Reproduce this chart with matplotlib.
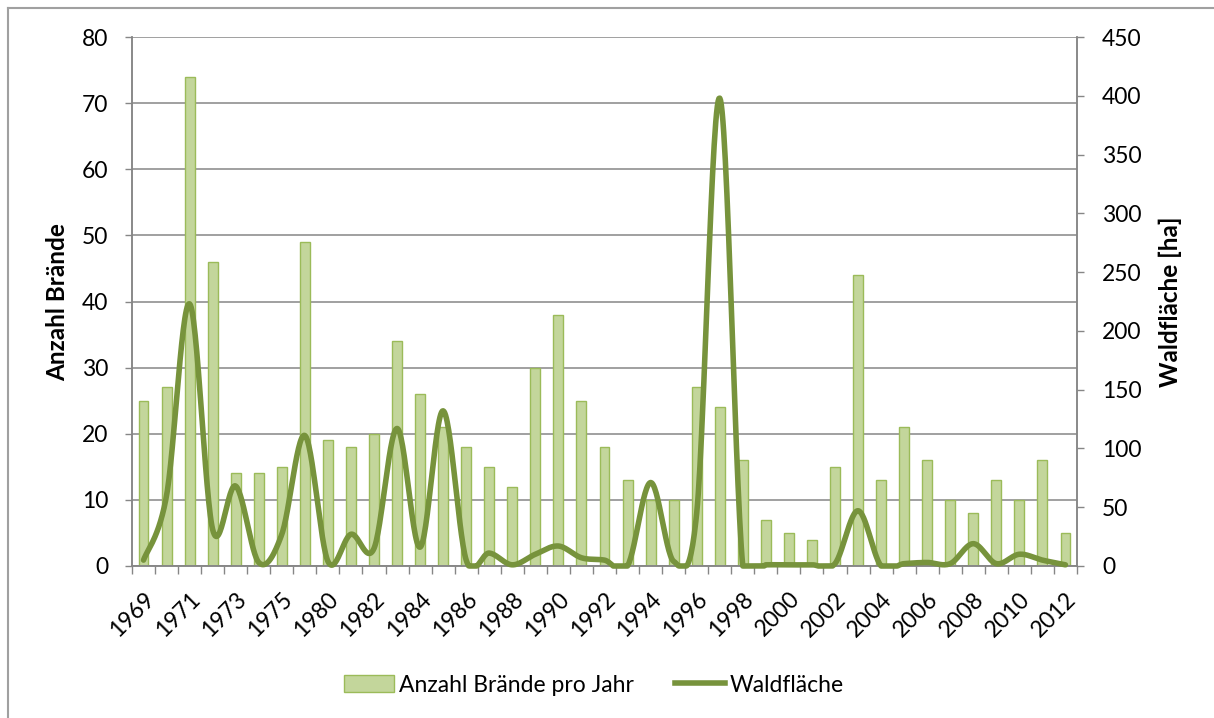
import numpy as np
import matplotlib
matplotlib.use("Agg")
import matplotlib.pyplot as plt
from matplotlib.patches import Patch
from matplotlib.lines import Line2D

plt.rcParams["font.family"] = ["Lato", "DejaVu Sans"]

years = ["1969", "1970", "1971", "1972", "1973", "1974", "1975", "1979",
         "1980", "1981", "1982", "1983", "1984", "1985", "1986", "1987",
         "1988", "1989", "1990", "1991", "1992", "1993", "1994", "1995",
         "1996", "1997", "1998", "1999", "2000", "2001", "2002", "2003",
         "2004", "2005", "2006", "2007", "2008", "2009", "2010", "2011",
         "2012"]
fires = [25, 27, 74, 46, 14, 14, 15, 49, 19, 18, 20, 34, 26, 21, 18, 15,
         12, 30, 38, 25, 18, 13, 10, 10, 27, 24, 16, 7, 5, 4, 15, 44,
         13, 21, 16, 10, 8, 13, 10, 16, 5]
area_ha = [5, 60, 223, 31, 68, 3, 27, 111, 4, 27, 15, 117, 16, 132, 5, 11,
           1, 10, 17, 7, 5, 0, 71, 4, 45, 398, 0, 1, 1, 1, 2, 47,
           0, 2, 3, 2, 19, 2, 10, 5, 1]

bar_fill = "#C3D69B"
bar_edge = "#9BBB59"
line_col = "#77933C"
grid_col = "#868686"
FS = 16.5

W, H = 1214, 718
fig = plt.figure(figsize=(W / 100, H / 100), dpi=100)
L, R, T, B = 132, 1077, 37, 566
ax = fig.add_axes([L / W, 1 - B / H, (R - L) / W, (B - T) / H])
ax2 = ax.twinx()

x = np.arange(len(years))
ax.bar(x, fires, width=0.43, color=bar_fill, edgecolor=bar_edge, linewidth=1.0, zorder=2)


# Excel-style smoothed line: cubic Bezier segments through the points
def smooth_line(xv, yv, n=30):
    P = np.column_stack([xv, yv]).astype(float)
    Pe = np.vstack([P[0], P, P[-1]])
    t = np.linspace(0, 1, n)[:, None]
    out = [P[:1]]
    for i in range(len(P) - 1):
        p0, p1, p2, p3 = Pe[i], Pe[i + 1], Pe[i + 2], Pe[i + 3]
        c1 = p1 + (p2 - p0) / 6
        c2 = p2 - (p3 - p1) / 6
        seg = (1 - t) ** 3 * p1 + 3 * (1 - t) ** 2 * t * c1 + 3 * (1 - t) * t ** 2 * c2 + t ** 3 * p2
        out.append(seg[1:])
    pts = np.vstack(out)
    return pts[:, 0], np.maximum(pts[:, 1], 0)


sx, sy = smooth_line(x, area_ha)
ax2.plot(sx, sy, color=line_col, linewidth=4.0, solid_capstyle="round",
         solid_joinstyle="round", clip_on=False, zorder=3)

ax.set_xlim(-0.5, len(years) - 0.5)
ax.set_ylim(0, 80)
ax.set_yticks(np.arange(0, 81, 10))
ax2.set_ylim(0, 450)
ax2.set_yticks(np.arange(0, 451, 50))

ax.grid(axis="y", color=grid_col, linewidth=1.1)
ax.set_axisbelow(True)

# category boundaries carry tick marks, labels sit on every other category
ax.set_xticks(np.arange(-0.5, len(years), 1.0))
ax.set_xticklabels([])
ax.tick_params(axis="x", which="major", length=6, width=1, color=grid_col, direction="out")
ax.set_xticks(x[::2], minor=True)
ax.set_xticklabels(years[::2], minor=True, rotation=45, ha="right", va="top",
                   rotation_mode="anchor", fontsize=FS)
ax.tick_params(axis="x", which="minor", length=0, pad=16)

ax.tick_params(axis="y", length=5, width=1, color=grid_col, pad=12, labelsize=FS)
ax2.tick_params(axis="y", length=5, width=1, color=grid_col, pad=13, labelsize=FS)

for a in (ax, ax2):
    for s in a.spines.values():
        s.set_color(grid_col)
        s.set_linewidth(1.1)
    a.spines["top"].set_visible(False)

fig.text(58 / W, 1 - 302 / H, "Anzahl Brände", rotation=90, ha="center", va="center",
         fontsize=17.5, fontweight="bold")
fig.text(1170 / W, 1 - 302 / H, "Waldfläche [ha]", rotation=90, ha="center", va="center",
         fontsize=17.5, fontweight="bold")

handles = [Patch(facecolor=bar_fill, edgecolor=bar_edge, linewidth=1.0),
           Line2D([0], [0], color=line_col, linewidth=4.0)]
fig.legend(handles, ["Anzahl Brände pro Jahr", "Waldfläche"], loc="center",
           bbox_to_anchor=(594 / W, 1 - 685 / H), ncol=2, frameon=False, fontsize=FS,
           handlelength=2.2, handletextpad=0.2, columnspacing=1.8)

# chart frame (only top and left edges are inside the image)
fig.add_artist(Line2D([8 / W, 8 / W], [0, 1 - 8 / H], color="#A0A0A0", linewidth=1.5))
fig.add_artist(Line2D([8 / W, 1], [1 - 8 / H, 1 - 8 / H], color="#A0A0A0", linewidth=1.5))

fig.savefig("out.png", dpi=100)
